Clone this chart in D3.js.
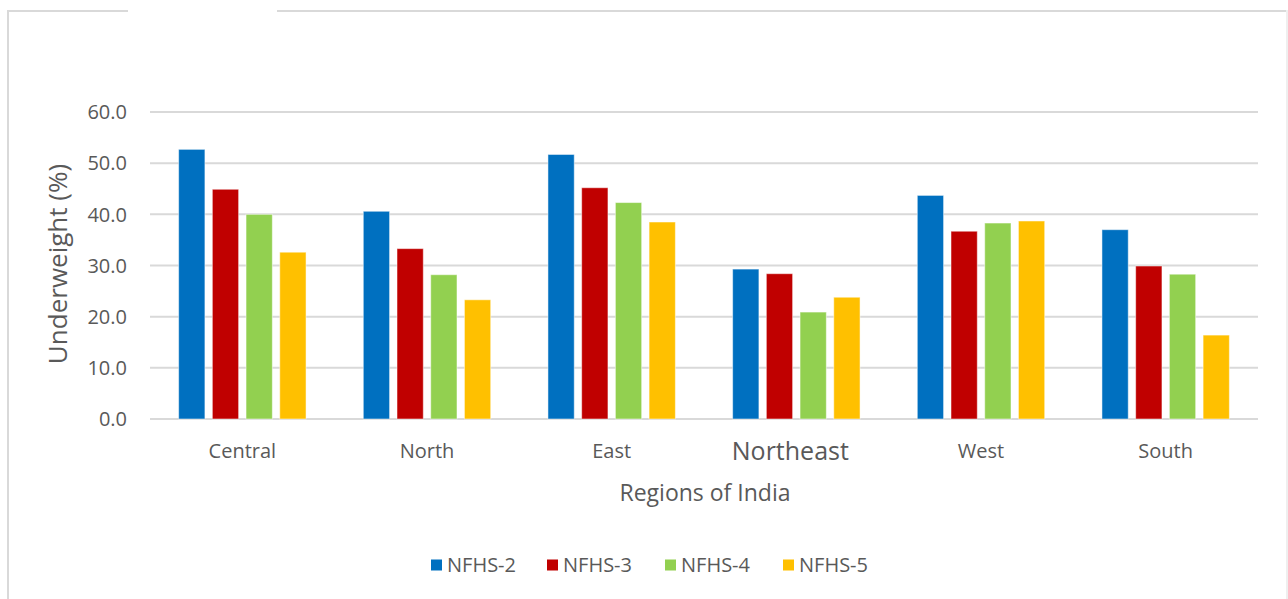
<!DOCTYPE html>
<html lang="en">
<head>
  <meta charset="UTF-8">
  <title>Underweight by Region</title>
  <script src="https://d3js.org/d3.v7.min.js"></script>
  <style>
    body {
      margin: 0;
      background-color: #ffffff;
      font-family: "Open Sans", Lato, sans-serif;
    }
    svg text {
      fill: #595959;
    }
  </style>
</head>
<body>
  <div id="chart"></div>

  <script>
    const regions = ["Central", "North", "East", "Northeast", "West", "South"];
    const rounds = ["NFHS-2", "NFHS-3", "NFHS-4", "NFHS-5"];
    const nfhs2 = [52.7, 40.6, 51.7, 29.3, 43.7, 37.0];
    const nfhs3 = [44.9, 33.3, 45.2, 28.4, 36.7, 29.9];
    const nfhs4 = [40.0, 28.2, 42.3, 20.9, 38.3, 28.3];
    const nfhs5 = [32.6, 23.3, 38.5, 23.8, 38.7, 16.4];
    const yTicks = [0, 10, 20, 30, 40, 50, 60];
    const colors = ["#0070C0", "#C00000", "#92D050", "#FFC000"];

    const series = [nfhs2, nfhs3, nfhs4, nfhs5];
    const width = 1288, height = 599;

    const svg = d3.select("#chart").append("svg")
      .attr("width", width)
      .attr("height", height);

    // chart frame (top edge has a gap where a title box sat)
    const frame = svg.append("g").attr("stroke", "#d9d9d9").attr("stroke-width", 2).attr("fill", "none");
    frame.append("line").attr("x1", 8).attr("y1", 11).attr("x2", 128).attr("y2", 11);
    frame.append("line").attr("x1", 277).attr("y1", 11).attr("x2", 1288).attr("y2", 11);
    frame.append("line").attr("x1", 8).attr("y1", 10).attr("x2", 8).attr("y2", 599);
    frame.append("line").attr("x1", 1287).attr("y1", 10).attr("x2", 1287).attr("y2", 599).attr("stroke", "#efefef");

    const x0 = d3.scaleBand().domain(regions).range([150, 1258]).paddingInner(0.31).paddingOuter(0.155);
    const x1 = d3.scaleBand().domain(rounds).range([0, x0.bandwidth()]).paddingInner(0.22);
    const y = d3.scaleLinear().domain([0, 60]).range([419, 112]);

    // gridlines
    svg.append("g").selectAll("line")
      .data(yTicks)
      .enter()
      .append("line")
      .attr("x1", 150)
      .attr("x2", 1258)
      .attr("y1", d => y(d))
      .attr("y2", d => y(d))
      .attr("stroke", "#d9d9d9")
      .attr("stroke-width", 2);

    // y tick labels
    svg.append("g").selectAll("text")
      .data(yTicks)
      .enter()
      .append("text")
      .attr("x", 127)
      .attr("y", d => y(d))
      .attr("dy", "0.36em")
      .attr("text-anchor", "end")
      .style("font-size", "20px")
      .text(d => d3.format(".1f")(d));

    // bars
    const groups = svg.append("g").selectAll("g")
      .data(regions)
      .enter()
      .append("g")
      .attr("transform", d => `translate(${x0(d)},0)`);

    groups.selectAll("rect")
      .data((d, i) => rounds.map((r, j) => ({ round: r, value: series[j][i], color: colors[j] })))
      .enter()
      .append("rect")
      .attr("x", d => x1(d.round))
      .attr("y", d => y(d.value))
      .attr("width", x1.bandwidth())
      .attr("height", d => y(0) - y(d.value))
      .attr("fill", d => d.color)
      .attr("stroke", "#ffffff")
      .attr("stroke-opacity", 0.5)
      .attr("stroke-width", 1);

    // category labels (Northeast label is larger and sits a bit left in the original)
    svg.append("g").selectAll("text")
      .data(regions)
      .enter()
      .append("text")
      .attr("x", d => x0(d) + x0.bandwidth() / 2)
      .attr("dx", d => d === "Northeast" ? -6 : 0)
      .attr("y", d => d === "Northeast" ? 460 : 458)
      .attr("text-anchor", "middle")
      .style("font-size", d => d === "Northeast" ? "25px" : "20px")
      .text(d => d);

    // axis titles
    svg.append("text")
      .attr("x", 705)
      .attr("y", 501)
      .attr("text-anchor", "middle")
      .style("font-size", "23px")
      .text("Regions of India");

    svg.append("text")
      .attr("transform", "translate(67,264) rotate(-90)")
      .attr("text-anchor", "middle")
      .style("font-size", "26px")
      .text("Underweight (%)");

    // legend
    const legendX = [431, 547, 665, 783];
    const legend = svg.append("g").selectAll("g")
      .data(rounds)
      .enter()
      .append("g")
      .attr("transform", (d, i) => `translate(${legendX[i]},565)`);

    legend.append("rect")
      .attr("x", 0)
      .attr("y", -5.5)
      .attr("width", 11)
      .attr("height", 11)
      .attr("fill", (d, i) => colors[i]);

    legend.append("text")
      .attr("x", 16)
      .attr("y", 0)
      .attr("dy", "0.36em")
      .style("font-size", "20px")
      .text(d => d);
  </script>
</body>
</html>
